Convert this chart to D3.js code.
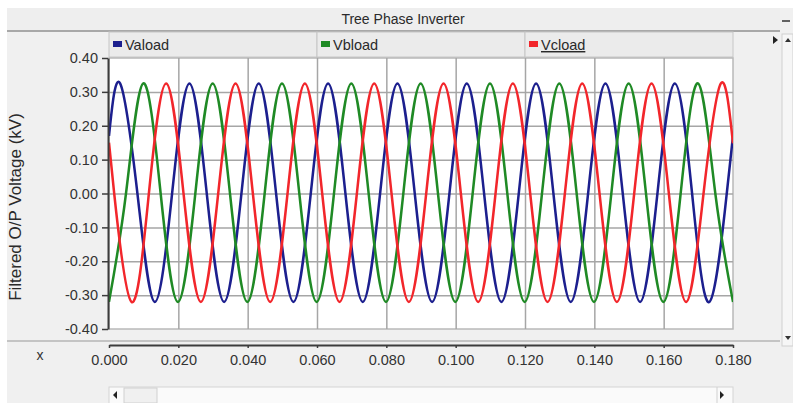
<!DOCTYPE html>
<html>
<head>
<meta charset="utf-8">
<script src="https://cdn.jsdelivr.net/npm/d3@7"></script>
<style>
  html, body { margin: 0; padding: 0; background: #fff; }
  svg { display: block; font-family: "Liberation Sans", Arial, sans-serif; }
</style>
</head>
<body>
<svg id="chart" width="793" height="403"></svg>
<script>
// values
const titleText = 'Tree Phase Inverter';
const yTitle = 'Filtered O/P Voltage (kV)';
const seriesNames = ['Vaload', 'Vbload', 'Vcload'];
const timeTicks = [0, 0.02, 0.04, 0.06, 0.08, 0.10, 0.12, 0.14, 0.16, 0.18];
const voltTicks = [-0.4, -0.3, -0.2, -0.1, 0, 0.1, 0.2, 0.3, 0.4];

// [time s, voltage kV] at peaks, troughs and zero crossings
const vaload = [
  [0, 0.17],
  [0.0032, 0.325], [0.0082, 0], [0.0132, -0.32], [0.0182, 0],
  [0.0232, 0.325], [0.0282, 0], [0.0332, -0.32], [0.0382, 0],
  [0.0432, 0.325], [0.0482, 0], [0.0532, -0.32], [0.0582, 0],
  [0.0632, 0.325], [0.0682, 0], [0.0732, -0.32], [0.0782, 0],
  [0.0832, 0.325], [0.0882, 0], [0.0932, -0.32], [0.0982, 0],
  [0.1032, 0.325], [0.1082, 0], [0.1132, -0.32], [0.1182, 0],
  [0.1232, 0.325], [0.1282, 0], [0.1332, -0.32], [0.1382, 0],
  [0.1432, 0.325], [0.1482, 0], [0.1532, -0.32], [0.1582, 0],
  [0.1632, 0.325], [0.1682, 0], [0.1732, -0.32], [0.1782, 0],
  [0.18, 0.17]
];
const vbload = [
  [0, -0.32], [0.0049, 0], [0.0099, 0.325], [0.0149, 0],
  [0.0199, -0.32], [0.0249, 0], [0.0299, 0.325], [0.0349, 0],
  [0.0399, -0.32], [0.0449, 0], [0.0499, 0.325], [0.0549, 0],
  [0.0599, -0.32], [0.0649, 0], [0.0699, 0.325], [0.0749, 0],
  [0.0799, -0.32], [0.0849, 0], [0.0899, 0.325], [0.0949, 0],
  [0.0999, -0.32], [0.1049, 0], [0.1099, 0.325], [0.1149, 0],
  [0.1199, -0.32], [0.1249, 0], [0.1299, 0.325], [0.1349, 0],
  [0.1399, -0.32], [0.1449, 0], [0.1499, 0.325], [0.1549, 0],
  [0.1599, -0.32], [0.1649, 0], [0.1699, 0.325], [0.1749, 0],
  [0.18, -0.32]
];
const vcload = [
  [0, 0.15], [0.0015, 0], [0.0065, -0.32], [0.0115, 0],
  [0.0165, 0.325], [0.0215, 0], [0.0265, -0.32], [0.0315, 0],
  [0.0365, 0.325], [0.0415, 0], [0.0465, -0.32], [0.0515, 0],
  [0.0565, 0.325], [0.0615, 0], [0.0665, -0.32], [0.0715, 0],
  [0.0765, 0.325], [0.0815, 0], [0.0865, -0.32], [0.0915, 0],
  [0.0965, 0.325], [0.1015, 0], [0.1065, -0.32], [0.1115, 0],
  [0.1165, 0.325], [0.1215, 0], [0.1265, -0.32], [0.1315, 0],
  [0.1365, 0.325], [0.1415, 0], [0.1465, -0.32], [0.1515, 0],
  [0.1565, 0.325], [0.1615, 0], [0.1665, -0.32], [0.1715, 0],
  [0.1765, 0.325], [0.18, 0.148]
];

const colors = ['#1c1f8e', '#1f8a25', '#f2262b'];
const seriesData = [vaload, vbload, vcload];

const svg = d3.select('#chart');
const W = 793, H = 403;
const plot = { left: 109, right: 733, top: 58, bottom: 329 };
const font = '"Liberation Sans", Arial, sans-serif';

const x = d3.scaleLinear().domain([0, 0.18]).range([plot.left, plot.right]);
const y = d3.scaleLinear().domain([-0.4, 0.4]).range([plot.bottom, plot.top]);

// window background + title bar
svg.append('rect').attr('x', 7).attr('y', 8).attr('width', W - 7).attr('height', H - 8).attr('fill', '#f0f0f0');
svg.append('rect').attr('x', 7).attr('y', 8).attr('width', 773).attr('height', 23).attr('fill', '#eeeeee');
svg.append('line').attr('x1', 7).attr('x2', 780).attr('y1', 31).attr('y2', 31).attr('stroke', '#a8a8a8').attr('stroke-width', 2);
svg.append('text').attr('x', 403).attr('y', 24).attr('text-anchor', 'middle')
  .style('font-size', '14px').attr('fill', '#2a2a2a').text(titleText);
svg.append('line').attr('x1', 782).attr('x2', 790).attr('y1', 21).attr('y2', 21).attr('stroke', '#333').attr('stroke-width', 1.5);

// legend cells
const cellW = (plot.right - plot.left) / 3;
seriesNames.forEach((name, i) => {
  const cx = plot.left + i * cellW;
  svg.append('rect').attr('x', cx).attr('y', 32).attr('width', cellW).attr('height', 25)
    .attr('fill', '#ebebeb').attr('stroke', '#c6c6c6');
  svg.append('rect').attr('x', cx + 4).attr('y', 41).attr('width', 9).attr('height', 6).attr('fill', colors[i]);
  const t = svg.append('text').attr('x', cx + 16).attr('y', 50).style('font-size', '14.5px').attr('fill', '#2a2a2a').text(name);
  if (i === 2) t.style('text-decoration', 'underline');
});

// plot area
svg.append('rect').attr('x', plot.left).attr('y', plot.top)
  .attr('width', plot.right - plot.left).attr('height', plot.bottom - plot.top)
  .attr('fill', '#fff').attr('stroke', '#b8b8b8').attr('stroke-width', 1.5);

// grid
const gridX = svg.append('g').attr('transform', `translate(0,${plot.bottom})`)
  .call(d3.axisBottom(x).tickValues(timeTicks.slice(1, -1)).tickSize(-(plot.bottom - plot.top)).tickFormat(''));
const gridY = svg.append('g').attr('transform', `translate(${plot.left},0)`)
  .call(d3.axisLeft(y).tickValues(voltTicks.slice(1, -1)).tickSize(-(plot.right - plot.left)).tickFormat(''));
[gridX, gridY].forEach(gr => {
  gr.select('.domain').remove();
  gr.selectAll('line').attr('stroke', '#a6a6a6').attr('stroke-width', 1.5);
});

// curves
svg.append('clipPath').attr('id', 'clip').append('rect')
  .attr('x', plot.left).attr('y', plot.top).attr('width', plot.right - plot.left).attr('height', plot.bottom - plot.top);
const line = d3.line().x(d => x(d[0])).y(d => y(d[1])).curve(d3.curveNatural);
seriesData.forEach((data, i) => {
  svg.append('path').datum(data).attr('clip-path', 'url(#clip)')
    .attr('fill', 'none').attr('stroke', colors[i]).attr('stroke-width', 2.5).attr('d', line);
});

// y axis
const yAxis = svg.append('g').attr('transform', `translate(${plot.left - 1},0)`)
  .call(d3.axisLeft(y).tickValues(voltTicks).tickSize(6).tickSizeOuter(0).tickPadding(4).tickFormat(d => d.toFixed(2)));
yAxis.select('.domain').attr('stroke', '#3c3c3c').attr('stroke-width', 2);
yAxis.selectAll('line').attr('stroke', '#3c3c3c').attr('stroke-width', 1.5);
yAxis.selectAll('text').attr('fill', '#333').style('font-size', '14.5px').style('font-family', font);

svg.append('text').attr('transform', 'translate(21,207) rotate(-90)').attr('text-anchor', 'middle')
  .style('font-size', '17px').attr('fill', '#2a2a2a').text(yTitle);

// separator and x axis
svg.append('line').attr('x1', 7).attr('x2', 780).attr('y1', 341).attr('y2', 341).attr('stroke', '#c4c4c4').attr('stroke-width', 2);
const xAxis = svg.append('g').attr('transform', 'translate(0,345)')
  .call(d3.axisBottom(x).tickValues(timeTicks).tickSize(3).tickSizeOuter(0).tickPadding(7).tickFormat(d => d.toFixed(3)));
xAxis.select('.domain').attr('stroke', '#3c3c3c').attr('stroke-width', 2);
xAxis.selectAll('line').attr('stroke', '#3c3c3c').attr('stroke-width', 1.5);
xAxis.selectAll('text').attr('fill', '#333').style('font-size', '14.5px').style('font-family', font);
svg.append('text').attr('x', 40).attr('y', 360).attr('text-anchor', 'middle').style('font-size', '14px').attr('fill', '#333').text('x');

// right-side chrome
svg.append('path').attr('d', 'M773,36 L778,40 L773,44 Z').attr('fill', '#222');
svg.append('rect').attr('x', 782).attr('y', 34).attr('width', 11).attr('height', 312).attr('fill', '#f6f6f6').attr('stroke', '#d0d0d0');
svg.append('path').attr('d', 'M785,42 L788,38 L791,42 Z').attr('fill', '#333');
svg.append('path').attr('d', 'M785,336 L788,340 L791,336 Z').attr('fill', '#333');

// bottom scrollbar
svg.append('rect').attr('x', plot.left).attr('y', 387).attr('width', plot.right - plot.left).attr('height', 17).attr('fill', '#fafafa').attr('stroke', '#d4d4d4');
svg.append('rect').attr('x', 124).attr('y', 388).attr('width', 33).attr('height', 15).attr('fill', '#f0f0f0').attr('stroke', '#d0d0d0');
svg.append('path').attr('d', 'M117,391 L113,395 L117,399 Z').attr('fill', '#222');
svg.append('path').attr('d', 'M720,391 L724,395 L720,399 Z').attr('fill', '#222');
svg.append('line').attr('x1', 717).attr('x2', 717).attr('y1', 387).attr('y2', 403).attr('stroke', '#d0d0d0');
</script>
</body>
</html>
